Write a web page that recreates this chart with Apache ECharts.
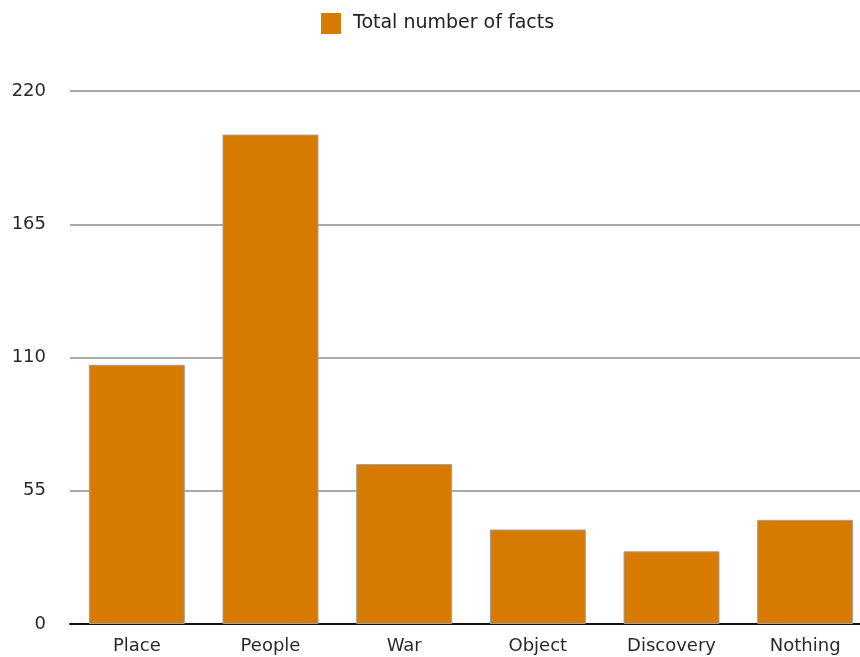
<!DOCTYPE html>
<html>
<head>
<meta charset="utf-8">
<script src="https://cdn.jsdelivr.net/npm/echarts@6/dist/echarts.min.js"></script>
<style>
  html, body { margin: 0; padding: 0; background: #fff; overflow: hidden; }
  /* the plot runs a little past the right edge of the picture */
  #chart { width: 872px; height: 657px; }
</style>
</head>
<body>
<div id="chart"></div>
<script>
// categories and values
var categories = ['Place', 'People', 'War', 'Object', 'Discovery', 'Nothing'];
var facts = [107, 202, 66, 39, 30, 43];
var seriesName = 'Total number of facts';
var yTicks = [0, 55, 110, 165, 220];

var font = 'DejaVu Sans';

var myChart = echarts.init(document.getElementById('chart'));

var option = {
  animation: false,
  legend: {
    top: 13,
    left: 321,
    padding: 0,
    itemWidth: 20,
    itemHeight: 21,
    itemGap: 10,
    icon: 'rect',
    itemStyle: { borderWidth: 0 },
    textStyle: { fontFamily: font, fontSize: 19, color: '#222', padding: [6, 0, 0, 7] },
    data: [seriesName]
  },
  grid: {
    left: 70,
    right: 0,
    top: 91,
    bottom: 33,
    containLabel: false
  },
  xAxis: {
    type: 'category',
    data: categories,
    axisLine: { lineStyle: { color: '#111', width: 2 } },
    axisTick: { show: false },
    axisLabel: { fontFamily: font, fontSize: 18, color: '#2a2a2a', margin: 13 }
  },
  yAxis: {
    type: 'value',
    min: yTicks[0],
    max: yTicks[yTicks.length - 1],
    interval: yTicks[1] - yTicks[0],
    axisLine: { show: false },
    axisTick: { show: false },
    axisLabel: { fontFamily: font, fontSize: 18, color: '#2a2a2a', margin: 24 },
    splitLine: { lineStyle: { color: '#aaa', width: 2 } }
  },
  series: [{
    name: seriesName,
    type: 'bar',
    data: facts,
    barWidth: 96,
    itemStyle: {
      color: '#d77a00',
      borderColor: '#a0a0a0',
      borderWidth: 1
    }
  }]
};

myChart.setOption(option);
</script>
</body>
</html>
